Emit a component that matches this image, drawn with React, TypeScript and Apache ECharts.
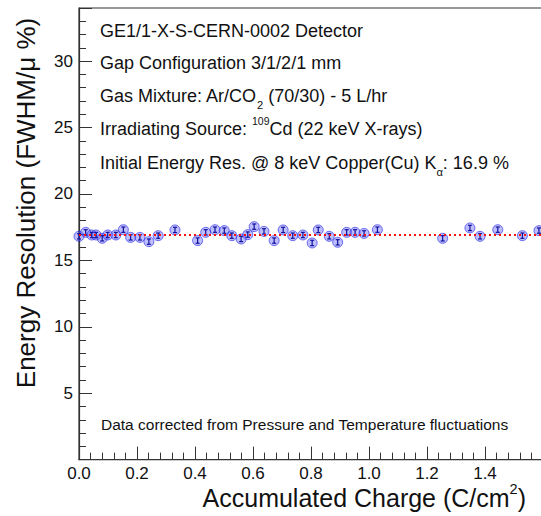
import { useEffect, useRef } from "react";
import * as echarts from "echarts";

const xCharge = [
  0.0, 0.023, 0.044, 0.059, 0.08, 0.099, 0.127, 0.153, 0.178, 0.21, 0.241, 0.273,
  0.331, 0.409, 0.437, 0.469, 0.501, 0.527, 0.559, 0.582, 0.604, 0.638, 0.673,
  0.704, 0.737, 0.772, 0.804, 0.825, 0.863, 0.892, 0.923, 0.952, 0.983, 1.029,
  1.254, 1.348, 1.383, 1.444, 1.529, 1.586,
];
const energyRes = [
  16.81, 17.11, 16.91, 16.91, 16.66, 16.91, 16.91, 17.31, 16.73, 16.73, 16.41, 16.86,
  17.29, 16.49, 17.11, 17.31, 17.24, 16.86, 16.61, 16.94, 17.54, 17.18, 16.49,
  17.29, 16.86, 16.91, 16.31, 17.29, 16.81, 16.36, 17.11, 17.11, 17.03, 17.31,
  16.66, 17.44, 16.81, 17.31, 16.86, 17.24,
];
const errBar = 0.2;
const fitValue = 16.9;

const infoLines = [
  "GE1/1-X-S-CERN-0002 Detector",
  "Gap Configuration 3/1/2/1 mm",
  "Gas Mixture: Ar/CO{sub|2} (70/30) - 5 L/hr",
  "Irradiating Source: {sup|109}Cd (22 keV X-rays)",
  "Initial Energy Res. @ 8 keV Copper(Cu) K{sub|α}: 16.9 %",
];
const noteText = "Data corrected from Pressure and Temperature fluctuations";
const xTitle = "Accumulated Charge (C/cm{sup|2})";
const yTitle = "Energy Resolution (FWHM/μ %)";

const FONT = "'Liberation Sans', Arial, Helvetica, sans-serif";
const AX = "#333";

export default function App() {
  const ref = useRef<HTMLDivElement>(null);
  useEffect(() => {
    const chart = echarts.init(ref.current!, null, { renderer: "svg" });
    const richBase = (size: number) => ({
      sub: { fontSize: size * 0.62, fontFamily: FONT, fill: "#111", verticalAlign: "bottom", padding: [0, 0, -5, 0] },
      sup: { fontSize: size * 0.58, fontFamily: FONT, fill: "#111", verticalAlign: "top", padding: [-4, 0, 0, 0] },
    });
    const lineYs = [31, 63, 96, 129, 163];
    const graphics: any[] = infoLines.map((t, i) => ({
      type: "text",
      x: 100,
      y: lineYs[i],
      z: 10,
      style: {
        text: t,
        fontSize: 18,
        fontFamily: FONT,
        fill: "#111",
        align: "left",
        verticalAlign: "middle",
        rich: richBase(18),
      },
    }));
    graphics.push({
      type: "text",
      x: 101,
      y: 424,
      z: 10,
      style: { text: noteText, fontSize: 15.5, fontFamily: FONT, fill: "#111", align: "left", verticalAlign: "middle" },
    });
    graphics.push({
      type: "text",
      x: 526,
      y: 498,
      z: 10,
      style: { text: xTitle, fontSize: 25, fontFamily: FONT, fill: "#111", align: "right", verticalAlign: "middle", rich: richBase(25) },
    });
    graphics.push({
      type: "text",
      x: 26,
      y: 203,
      rotation: Math.PI / 2,
      z: 10,
      style: { text: yTitle, fontSize: 26, fontFamily: FONT, fill: "#111", align: "center", verticalAlign: "middle" },
    });

    const pts = xCharge.map((x, i) => [x, energyRes[i]]);
    chart.setOption({
      animation: false,
      backgroundColor: "#fff",
      grid: {
        left: 79,
        top: 8,
        width: 1.72 * 290,
        height: 451.6,
        show: true,
        borderColor: AX,
        borderWidth: 1.2,
        backgroundColor: "transparent",
      },
      graphic: graphics,
      xAxis: [
        {
          type: "value",
          min: 0,
          max: 1.72,
          interval: 0.2,
          position: "bottom",
          axisLine: { show: true, lineStyle: { color: AX, width: 1.2 } },
          axisTick: { show: true, inside: true, length: 13, lineStyle: { color: AX, width: 1 } },
          splitLine: { show: false },
          axisLabel: {
            fontSize: 17,
            fontFamily: FONT,
            color: "#111",
            margin: 5,
            showMaxLabel: false,
            formatter: (v: number) =>
              v > 1.5 || Math.abs(v * 5 - Math.round(v * 5)) > 1e-6 ? "" : v.toFixed(1),
          },
        },
        {
          type: "value",
          min: 0,
          max: 1.72,
          interval: 0.04,
          position: "bottom",
          axisLine: { show: false },
          axisTick: { show: true, inside: true, length: 7, lineStyle: { color: AX, width: 1 } },
          axisLabel: { show: false },
          splitLine: { show: false },
        },
      ],
      yAxis: [
        {
          type: "value",
          min: 0,
          max: 34,
          interval: 5,
          position: "left",
          axisLine: { show: true, lineStyle: { color: AX, width: 1.2 } },
          axisTick: { show: true, inside: true, length: 13, lineStyle: { color: AX, width: 1 } },
          splitLine: { show: false },
          axisLabel: {
            fontSize: 17,
            fontFamily: FONT,
            color: "#111",
            margin: 6,
            formatter: (v: number) => (v === 0 || v % 5 !== 0 ? "" : String(v)),
          },
        },
        {
          type: "value",
          min: 0,
          max: 34,
          interval: 1,
          position: "left",
          axisLine: { show: false },
          axisTick: { show: true, inside: true, length: 7, lineStyle: { color: AX, width: 1 } },
          axisLabel: { show: false },
          splitLine: { show: false },
        },
      ],
      series: [
        {
          type: "scatter",
          xAxisIndex: 0,
          yAxisIndex: 0,
          data: pts,
          symbol: "circle",
          symbolSize: 10,
          clip: false,
          itemStyle: { color: "rgba(90,90,255,0.5)", borderColor: "rgba(30,30,230,0.75)", borderWidth: 1 },
          markLine: {
            silent: true,
            symbol: "none",
            label: { show: false },
            lineStyle: { color: "#ff1010", width: 2, type: [2, 3] },
            data: [{ yAxis: fitValue }],
          },
          z: 3,
        },
        {
          type: "custom",
          xAxisIndex: 0,
          yAxisIndex: 0,
          data: pts,
          clip: false,
          z: 4,
          renderItem: (_p: any, api: any) => {
            const x = api.value(0);
            const y = api.value(1);
            const top = api.coord([x, y + errBar]);
            const bot = api.coord([x, y - errBar]);
            const st = { stroke: "#12129a", lineWidth: 1.2 };
            return {
              type: "group",
              children: [
                { type: "line", shape: { x1: top[0], y1: top[1], x2: bot[0], y2: bot[1] }, style: st },
                { type: "line", shape: { x1: top[0] - 2, y1: top[1], x2: top[0] + 2, y2: top[1] }, style: st },
                { type: "line", shape: { x1: bot[0] - 2, y1: bot[1], x2: bot[0] + 2, y2: bot[1] }, style: st },
              ],
            };
          },
        },
      ],
    });
    return () => chart.dispose();
  }, []);
  return (
    <div style={{ position: "fixed", left: 0, top: 0, width: 541, height: 516, overflow: "hidden", background: "#fff" }}>
      <div ref={ref} style={{ width: 600, height: 516 }} />
    </div>
  );
}
